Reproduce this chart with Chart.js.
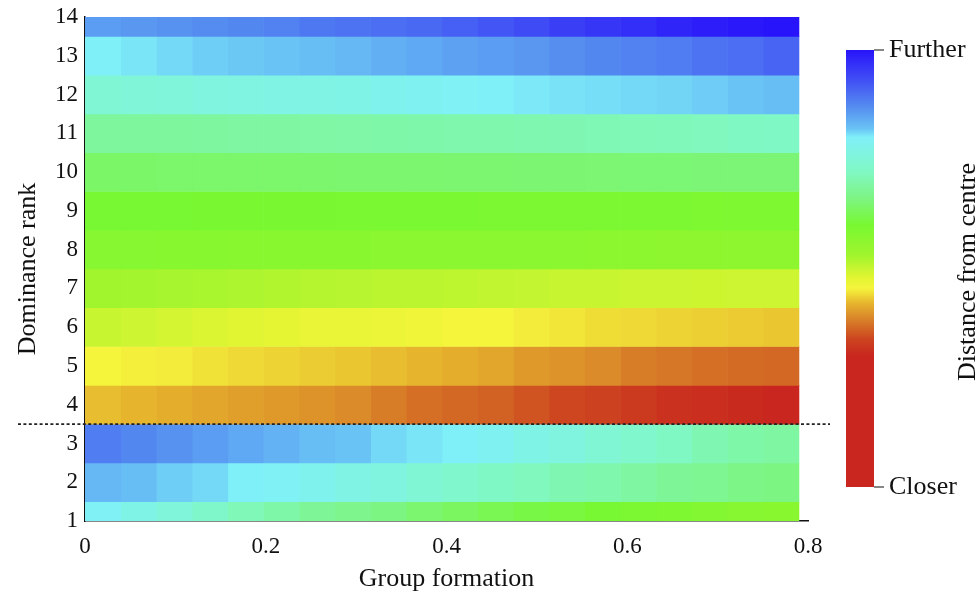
<!DOCTYPE html>
<html><head><meta charset="utf-8">
<script src="https://cdn.jsdelivr.net/npm/chart.js@4/dist/chart.umd.min.js"></script>
<style>html,body{margin:0;padding:0;background:#fff}#wrap{width:980px;height:592px;position:relative}</style>
</head><body><div id="wrap"><canvas id="c" width="980" height="592"></canvas></div>
<script>
// Group formation bin edges (x axis)
const xEdges = [0,0.0395,0.079,0.1185,0.158,0.1975,0.237,0.2765,0.316,0.3555,0.395,0.4345,0.474,0.5135,0.553,0.5925,0.632,0.6715,0.711,0.7505,0.79];
// Dominance ranks (y axis)
const ranks = [1,2,3,4,5,6,7,8,9,10,11,12,13,14];
// Relative distance from centre (0 = closer, 1 = further), one value per bin
const rank1  = [0.795,0.775,0.755,0.73,0.71,0.695,0.68,0.67,0.66,0.645,0.635,0.625,0.615,0.61,0.60,0.595,0.59,0.58,0.575,0.57];
const rank2  = [0.83,0.825,0.815,0.81,0.80,0.795,0.785,0.77,0.76,0.745,0.735,0.725,0.715,0.705,0.70,0.69,0.68,0.675,0.665,0.66];
const rank3  = [0.885,0.875,0.865,0.855,0.845,0.835,0.825,0.82,0.81,0.805,0.80,0.79,0.775,0.76,0.745,0.735,0.72,0.705,0.695,0.69];
const rank4  = [0.425,0.42,0.415,0.41,0.405,0.40,0.395,0.39,0.38,0.37,0.365,0.36,0.35,0.34,0.335,0.325,0.315,0.31,0.305,0.30];
const rank5  = [0.455,0.452,0.45,0.445,0.44,0.437,0.433,0.43,0.425,0.42,0.415,0.41,0.40,0.395,0.39,0.38,0.375,0.37,0.367,0.365];
const rank6  = [0.50,0.495,0.49,0.485,0.48,0.475,0.47,0.467,0.465,0.46,0.455,0.455,0.45,0.447,0.442,0.44,0.437,0.435,0.432,0.43];
const rank7  = [0.53,0.528,0.525,0.523,0.52,0.518,0.515,0.513,0.51,0.51,0.508,0.505,0.503,0.50,0.50,0.498,0.497,0.496,0.495,0.495];
const rank8  = [0.575,0.575,0.574,0.573,0.572,0.571,0.57,0.57,0.569,0.568,0.568,0.567,0.566,0.566,0.565,0.565,0.564,0.564,0.563,0.563];
const rank9  = [0.60,0.60,0.60,0.599,0.599,0.598,0.598,0.597,0.597,0.596,0.596,0.595,0.595,0.594,0.594,0.593,0.593,0.592,0.592,0.591];
const rank10 = [0.64,0.641,0.642,0.642,0.643,0.643,0.644,0.645,0.645,0.646,0.647,0.647,0.648,0.648,0.649,0.65,0.65,0.651,0.652,0.652];
const rank11 = [0.685,0.685,0.686,0.688,0.69,0.69,0.692,0.694,0.695,0.697,0.70,0.70,0.703,0.705,0.707,0.71,0.712,0.715,0.72,0.725];
const rank12 = [0.745,0.75,0.755,0.76,0.765,0.77,0.77,0.775,0.785,0.79,0.795,0.80,0.803,0.806,0.808,0.81,0.812,0.816,0.82,0.825];
const rank13 = [0.80,0.805,0.81,0.815,0.818,0.82,0.825,0.83,0.838,0.845,0.85,0.855,0.86,0.868,0.875,0.88,0.885,0.895,0.90,0.91];
const rank14 = [0.855,0.86,0.865,0.87,0.875,0.88,0.89,0.895,0.90,0.905,0.915,0.925,0.935,0.95,0.96,0.97,0.98,0.99,0.995,1.0];
const xTicks = [0,0.2,0.4,0.6,0.8];
const colorbarLabels = ['Further','Closer'];

const rows = [rank1,rank2,rank3,rank4,rank5,rank6,rank7,rank8,rank9,rank10,rank11,rank12,rank13,rank14];

const cmapStops = [
  [0,[200,38,30]],[0.30,[200,38,30]],[0.34,[205,70,32]],[0.38,[215,125,40]],
  [0.42,[230,180,45]],[0.455,[245,245,60]],[0.48,[225,245,50]],[0.53,[160,245,45]],
  [0.60,[120,248,50]],[0.66,[125,245,130]],[0.72,[128,248,195]],[0.80,[128,240,248]],
  [0.82,[105,195,245]],[0.87,[85,140,240]],[0.93,[65,80,245]],[1,[40,20,250]]
];
function cmap(v){
  for(let i=1;i<cmapStops.length;i++){
    const [v1,c1]=cmapStops[i], [v0,c0]=cmapStops[i-1];
    if(v<=v1){
      const t=(v-v0)/(v1-v0||1);
      const c=c0.map((a,k)=>Math.round(a+(c1[k]-a)*t));
      return `rgb(${c[0]},${c[1]},${c[2]})`;
    }
  }
  const c=cmapStops[cmapStops.length-1][1];
  return `rgb(${c[0]},${c[1]},${c[2]})`;
}

const datasets = xEdges.slice(0,-1).map((x0,i)=>({
  data: ranks.map(r=>({x:[x0,xEdges[i+1]], y:r})),
  backgroundColor: ranks.map((r,j)=>cmap(rows[j][i])),
  borderWidth:0,
  grouped:false,
  categoryPercentage:1,
  barPercentage:1
}));

const FONT = "'Liberation Serif', 'DejaVu Serif', serif";

const extras = {
  id:'extras',
  afterDraw(chart){
    const ctx=chart.ctx, a=chart.chartArea, y=chart.scales.y;
    ctx.save();
    // divider line between rank 3 and 4
    const yy = y.getPixelForValue(3.5);
    ctx.strokeStyle='#222'; ctx.lineWidth=1.6; ctx.setLineDash([3,2.4]);
    ctx.beginPath(); ctx.moveTo(a.left-67, yy); ctx.lineTo(a.right+22, yy); ctx.stroke();
    ctx.setLineDash([]);
    // colour bar
    const bx=846, bw=28, bt=50, bb=487;
    const g=ctx.createLinearGradient(0,bb,0,bt);
    cmapStops.forEach(([v,c])=>g.addColorStop(v,`rgb(${c[0]},${c[1]},${c[2]})`));
    ctx.fillStyle=g; ctx.fillRect(bx,bt,bw,bb-bt);
    ctx.strokeStyle='#111'; ctx.lineWidth=1.2;
    ctx.beginPath(); ctx.moveTo(bx+bw,bt); ctx.lineTo(bx+bw+10,bt); ctx.moveTo(bx+bw,bb); ctx.lineTo(bx+bw+10,bb); ctx.stroke();
    ctx.fillStyle='#111'; ctx.font="26px "+FONT; ctx.textBaseline='middle'; ctx.textAlign='left';
    ctx.fillText(colorbarLabels[0], bx+bw+15, bt);
    ctx.fillText(colorbarLabels[1], bx+bw+15, bb);
    ctx.translate(968, 272); ctx.rotate(-Math.PI/2); ctx.textAlign='center';
    ctx.fillText('Distance from centre',0,0);
    ctx.restore();
  }
};

new Chart(document.getElementById('c'),{
  type:'bar',
  data:{datasets},
  options:{
    responsive:false, animation:false, indexAxis:'y',
    layout:{padding:{left:0,right:172,top:17,bottom:0}},
    plugins:{legend:{display:false},tooltip:{enabled:false}},
    scales:{
      x:{type:'linear',min:0,max:0.8,
        afterBuildTicks(s){ s.ticks = xTicks.map(v=>({value:v})); },
        grid:{display:false,drawTicks:false},
        border:{display:true,color:'#111',width:1.5},
        ticks:{color:'#111',font:{family:FONT,size:23},padding:12,maxRotation:0},
        title:{display:true,text:'Group formation',color:'#111',font:{family:FONT,size:26},padding:{top:4,bottom:-3}},
        afterFit(s){ s.height=71; }
      },
      y:{type:'linear',min:1,max:14,offset:false,
        ticks:{stepSize:1,color:'#111',font:{family:FONT,size:23,lineHeight:1},padding:7},
        grid:{display:false,drawTicks:false,offset:false},
        border:{display:true,color:'#111',width:1.5},
        title:{display:true,text:'Dominance rank',color:'#111',font:{family:FONT,size:26},padding:{top:13,bottom:4}},
        afterFit(s){ s.width=85; s.paddingTop=0; s.paddingBottom=0; }
      }
    }
  },
  plugins:[extras]
});
</script></body></html>
